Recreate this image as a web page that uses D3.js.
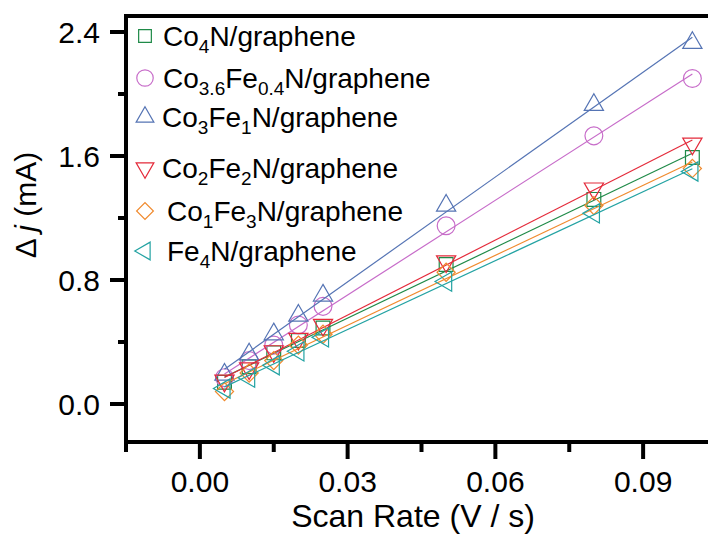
<!DOCTYPE html>
<html>
<head>
<meta charset="utf-8">
<script src="https://cdn.jsdelivr.net/npm/d3@7"></script>
<style>
  body { margin: 0; background: #fff; }
  svg { display: block; font-family: "Liberation Sans", Arial, sans-serif; }
</style>
</head>
<body>
<div id="chart"></div>
<script>
// Scan rates (V/s)
const scanRates = [0.005, 0.01, 0.015, 0.02, 0.025, 0.05, 0.08, 0.1];

// Delta j (mA) for each sample
const co4N      = [0.14, 0.24, 0.33, 0.41, 0.49, 0.90, 1.32, 1.59];
const co36Fe04N = [0.17, 0.28, 0.38, 0.51, 0.63, 1.15, 1.73, 2.10];
const co3Fe1N   = [0.19, 0.32, 0.45, 0.57, 0.70, 1.28, 1.93, 2.33];
const co2Fe2N   = [0.15, 0.23, 0.34, 0.42, 0.51, 0.92, 1.39, 1.68];
const co1Fe3N   = [0.08, 0.20, 0.28, 0.38, 0.45, 0.85, 1.28, 1.52];
const fe4N      = [0.10, 0.17, 0.25, 0.34, 0.43, 0.79, 1.23, 1.50];

// legend labels as [text, isSubscript] pieces
const labels = [
  [["Co", 0], ["4", 1], ["N/graphene", 0]],
  [["Co", 0], ["3.6", 1], ["Fe", 0], ["0.4", 1], ["N/graphene", 0]],
  [["Co", 0], ["3", 1], ["Fe", 0], ["1", 1], ["N/graphene", 0]],
  [["Co", 0], ["2", 1], ["Fe", 0], ["2", 1], ["N/graphene", 0]],
  [["Co", 0], ["1", 1], ["Fe", 0], ["3", 1], ["N/graphene", 0]],
  [["Fe", 0], ["4", 1], ["N/graphene", 0]]
];

const xTicks = [0.00, 0.03, 0.06, 0.09];
const xMinor = [-0.015, 0.015, 0.045, 0.075];
const yTicks = [0.0, 0.8, 1.6, 2.4];
const yMinor = [0.4, 1.2, 2.0];

const colors = ["#1f8a48", "#c76cc9", "#5574b4", "#e42a3a", "#f08a2e", "#24a3a3"];
const series = [co4N, co36Fe04N, co3Fe1N, co2Fe2N, co1Fe3N, fe4N];

const W = 708, H = 536;
const svg = d3.select("#chart").append("svg").attr("width", W).attr("height", H);

const x = d3.scaleLinear().domain([-0.015, 0.105]).range([126, 717]);
const y = d3.scaleLinear().domain([-0.245, 2.4]).range([442, 32]);

// marker shapes
function markerPath(i, s) {
  s = s || 1;
  if (i === 0) return d3.symbol(d3.symbolSquare, 190 * s)();
  if (i === 1) return d3.symbol(d3.symbolCircle, 250 * s)();
  if (i === 4) return d3.symbol(d3.symbolSquare, 165 * s)();
  return d3.symbol(d3.symbolTriangle, 160 * s)();
}
const markerRot = [0, 0, 0, 180, 45, -90];

// least squares fit line
function fit(xs, ys) {
  const mx = d3.mean(xs), my = d3.mean(ys);
  const b = d3.sum(xs, (v, k) => (v - mx) * (ys[k] - my)) / d3.sum(xs, v => (v - mx) * (v - mx));
  return [b, my - b * mx];
}

const plot = svg.append("g");

series.forEach((vals, i) => {
  const [b, a] = fit(scanRates, vals);
  const x0 = scanRates[0], x1 = scanRates[scanRates.length - 1];
  plot.append("line")
    .attr("x1", x(x0)).attr("y1", y(a + b * x0))
    .attr("x2", x(x1)).attr("y2", y(a + b * x1))
    .attr("stroke", colors[i]).attr("stroke-width", 1.2);

  plot.selectAll(".m" + i)
    .data(vals)
    .enter()
    .append("path")
    .attr("class", "m" + i)
    .attr("d", markerPath(i))
    .attr("transform", (d, k) => `translate(${x(scanRates[k])},${y(d)}) rotate(${markerRot[i]})`)
    .attr("fill", "none")
    .attr("stroke", colors[i])
    .attr("stroke-width", 1.2);
});

// frame (top + left + bottom, right side runs off the picture)
svg.append("path")
  .attr("d", `M${W + 5},16 H126 V442 H${W + 5}`)
  .attr("fill", "none").attr("stroke", "#000").attr("stroke-width", 4);

// y axis ticks
svg.selectAll(".ytick").data(yTicks).enter().append("line")
  .attr("x1", 110).attr("x2", 126)
  .attr("y1", d => y(d)).attr("y2", d => y(d))
  .attr("stroke", "#000").attr("stroke-width", 4);
svg.selectAll(".yminor").data(yMinor).enter().append("line")
  .attr("x1", 118).attr("x2", 126)
  .attr("y1", d => y(d)).attr("y2", d => y(d))
  .attr("stroke", "#000").attr("stroke-width", 4);
svg.selectAll(".ylab").data(yTicks).enter().append("text")
  .attr("x", 100).attr("y", d => y(d) + 11)
  .attr("text-anchor", "end")
  .attr("font-size", 30)
  .text(d => d.toFixed(1));

// x axis ticks
svg.selectAll(".xtick").data(xTicks).enter().append("line")
  .attr("x1", d => x(d)).attr("x2", d => x(d))
  .attr("y1", 442).attr("y2", 459)
  .attr("stroke", "#000").attr("stroke-width", 4);
svg.selectAll(".xminor").data(xMinor).enter().append("line")
  .attr("x1", d => x(d)).attr("x2", d => x(d))
  .attr("y1", 442).attr("y2", 452)
  .attr("stroke", "#000").attr("stroke-width", 4);
svg.selectAll(".xlab").data(xTicks).enter().append("text")
  .attr("x", d => x(d)).attr("y", 492)
  .attr("text-anchor", "middle")
  .attr("font-size", 30)
  .text(d => d.toFixed(2));

// axis titles
svg.append("text")
  .attr("x", 413).attr("y", 527)
  .attr("text-anchor", "middle")
  .attr("font-size", 32)
  .text("Scan Rate (V / s)");

const yt = svg.append("text")
  .attr("transform", "translate(36,205) rotate(-90)")
  .attr("text-anchor", "middle")
  .attr("font-size", 30);
yt.append("tspan").text("\u0394 ");
yt.append("tspan").attr("font-style", "italic").text("j");
yt.append("tspan").text(" (mA)");

// legend
const legendY = [36, 78, 117, 168, 211, 251];
const legendX = [163, 163, 162, 162, 167, 167];
labels.forEach((parts, i) => {
  const ly = legendY[i];
  svg.append("path")
    .attr("d", markerPath(i, 0.85))
    .attr("transform", `translate(145,${ly}) rotate(${markerRot[i]})`)
    .attr("fill", "none")
    .attr("stroke", colors[i])
    .attr("stroke-width", 1.2);
  const t = svg.append("text")
    .attr("x", legendX[i]).attr("y", ly + 10)
    .attr("font-size", 28);
  parts.forEach(([s, sub], k) => {
    const ts = t.append("tspan").text(s);
    const prevSub = k > 0 && parts[k - 1][1];
    if (sub) ts.attr("font-size", 19).attr("dy", 7);
    else if (prevSub) ts.attr("dy", -7);
  });
});
</script>
</body>
</html>
